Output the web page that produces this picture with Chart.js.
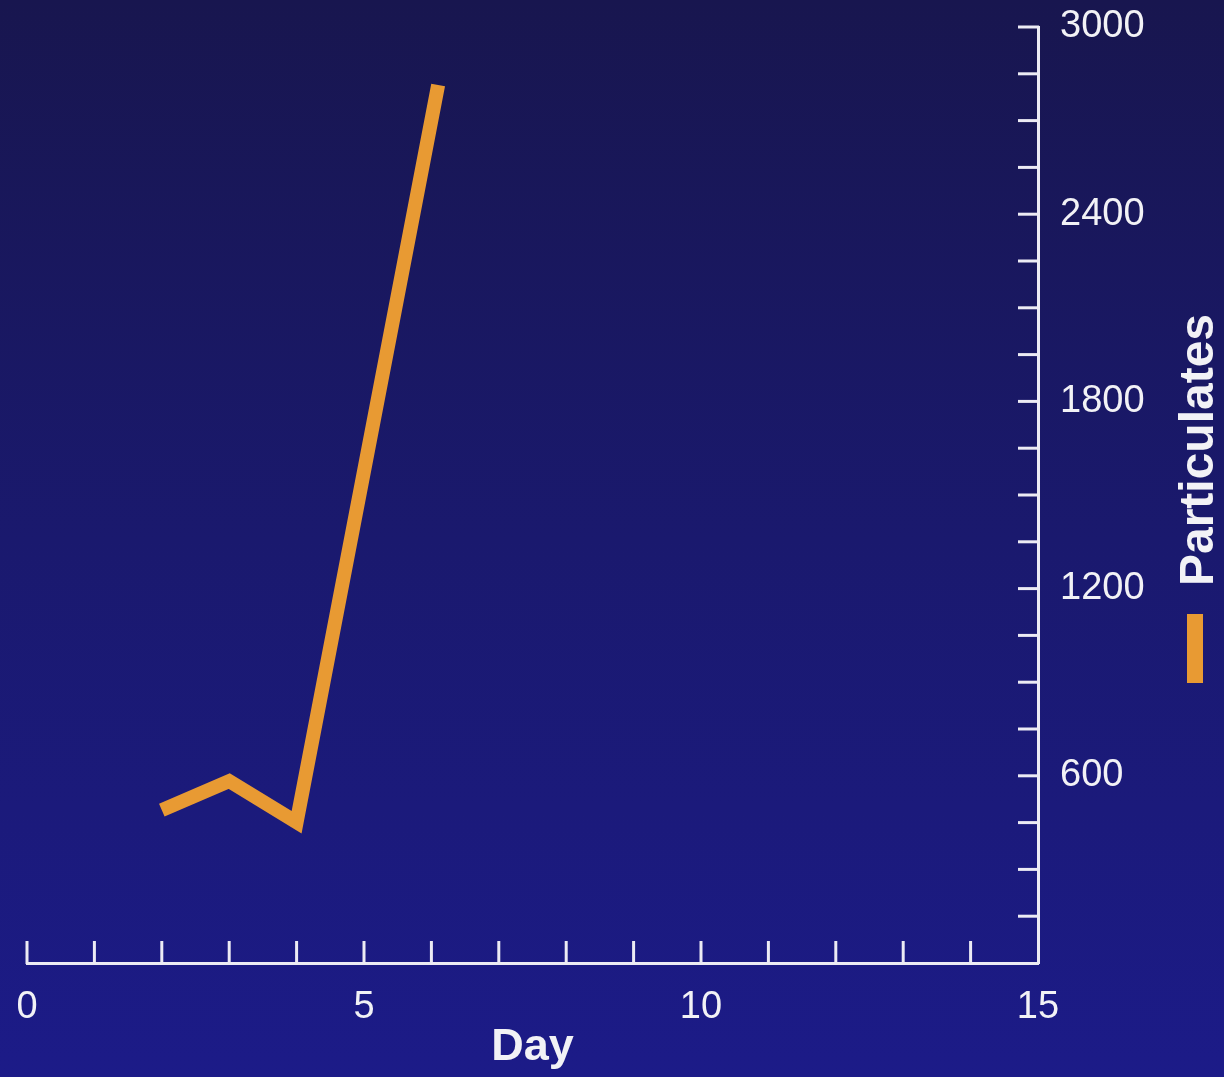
<!DOCTYPE html>
<html>
<head>
<meta charset="utf-8">
<script src="https://cdn.jsdelivr.net/npm/chart.js@4.4.1/dist/chart.umd.min.js"></script>
<style>
  html, body { margin: 0; padding: 0; background: #1a1966; }
  #wrap { width: 1224px; height: 1077px; position: relative; }
  canvas { display: block; }
</style>
</head>
<body>
<div id="wrap"><canvas id="c" width="1224" height="1077"></canvas></div>
<script>
// ---- Data ----
const days = [2, 3, 4, 6.1];
const particulates = [490, 583, 451, 2814];
const seriesName = 'Particulates';
const xTitle = 'Day';
const xMin = 0, xMax = 15, xStep = 1, xLabelEvery = 5;
const yMin = 0, yMax = 3000, yStep = 150, yLabelEvery = 600;

const W = 1224, H = 1077;
const lineColor = '#e89a33';
const axisColor = '#ecebf4';
const textColor = '#f2f2f6';
const fontFam = '"Liberation Sans", Arial, sans-serif';

const bgPlugin = {
  id: 'bg',
  beforeDraw(chart) {
    const ctx = chart.ctx;
    const g = ctx.createLinearGradient(0, 0, 0, H);
    g.addColorStop(0, '#18164f');
    g.addColorStop(0.5, '#1a196e');
    g.addColorStop(1, '#1c1b88');
    ctx.save();
    ctx.fillStyle = g;
    ctx.fillRect(0, 0, W, H);
    ctx.restore();
  }
};

const tickPlugin = {
  id: 'inTicks',
  afterDraw(chart) {
    const ctx = chart.ctx;
    const xs = chart.scales.x, ys = chart.scales.y;
    const area = chart.chartArea;
    ctx.save();
    ctx.strokeStyle = axisColor;
    ctx.lineWidth = 3;
    ctx.lineCap = 'butt';
    xs.ticks.forEach(t => {
      if (t.value >= xMax) return;
      const px = xs.getPixelForValue(t.value);
      ctx.beginPath();
      ctx.moveTo(px, area.bottom + 1);
      ctx.lineTo(px, area.bottom - 22);
      ctx.stroke();
    });
    ys.ticks.forEach(t => {
      if (t.value <= yMin) return;
      const py = ys.getPixelForValue(t.value);
      ctx.beginPath();
      ctx.moveTo(area.right + 1, py);
      ctx.lineTo(area.right - 20, py);
      ctx.stroke();
    });
    // y title, rotated reading bottom-to-top, plus legend swatch
    ctx.translate(1200, 450);
    ctx.rotate(-Math.PI / 2);
    ctx.fillStyle = textColor;
    ctx.font = 'bold 48px ' + fontFam;
    ctx.textAlign = 'center';
    ctx.textBaseline = 'middle';
    ctx.fillText(seriesName, 0, 0);
    ctx.restore();
    ctx.save();
    ctx.fillStyle = lineColor;
    ctx.fillRect(1187, 614, 16, 69);
    ctx.restore();
  }
};

new Chart(document.getElementById('c'), {
  type: 'line',
  data: {
    datasets: [{
      label: seriesName,
      data: days.map((d, i) => ({ x: d, y: particulates[i] })),
      borderColor: lineColor,
      borderWidth: 14,
      borderCapStyle: 'butt',
      borderJoinStyle: 'miter',
      pointRadius: 0,
      tension: 0,
      fill: false
    }]
  },
  options: {
    responsive: false,
    animation: false,
    events: [],
    layout: { padding: { left: 27, top: 27, right: 0, bottom: 0 } },
    plugins: { legend: { display: false }, tooltip: { enabled: false } },
    scales: {
      x: {
        type: 'linear',
        min: xMin, max: xMax,
        afterFit(s) { s.height = 114; s.paddingLeft = 0; s.paddingRight = 0; },
        grid: { display: false },
        border: { display: true, color: axisColor, width: 3 },
        ticks: {
          stepSize: xStep,
          autoSkip: false,
          maxRotation: 0,
          padding: 14,
          color: textColor,
          font: { family: fontFam, size: 38 },
          callback: v => (v % xLabelEvery === 0 ? String(v) : '')
        },
        title: {
          display: true,
          text: xTitle,
          color: textColor,
          font: { family: fontFam, size: 45, weight: 'bold' },
          padding: { top: 0, bottom: 2 }
        }
      },
      y: {
        type: 'linear',
        position: 'right',
        min: yMin, max: yMax,
        afterFit(s) { s.width = 186; s.paddingTop = 0; s.paddingBottom = 0; },
        grid: { display: false },
        border: { display: true, color: axisColor, width: 3 },
        ticks: {
          stepSize: yStep,
          autoSkip: false,
          padding: 14,
          color: textColor,
          font: { family: fontFam, size: 38 },
          callback: v => (v > 0 && v % yLabelEvery === 0 ? String(v) : '')
        }
      }
    }
  },
  plugins: [bgPlugin, tickPlugin]
});
</script>
</body>
</html>
